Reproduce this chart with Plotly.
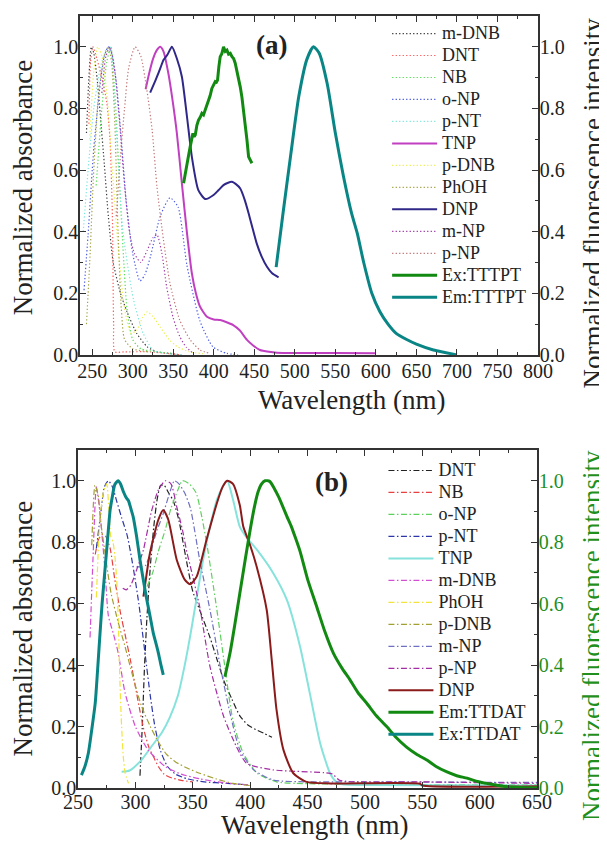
import plotly.graph_objects as go

# ---------------- Panel (a) data ----------------
a_mDNB_x = [243, 246, 249, 252, 256, 260, 265, 270, 276, 285, 293, 305, 318, 330, 345, 360]
a_mDNB_y = [0.72, 0.9, 1.0, 0.98, 0.9, 0.78, 0.62, 0.45, 0.3, 0.2, 0.14, 0.07, 0.026, 0.01, 0.005, 0.0]
a_DNT_x = [246, 248, 251, 256, 262, 268, 272, 275, 276.5, 278, 290, 320, 360]
a_DNT_y = [0.75, 0.95, 1.0, 0.96, 0.9, 0.82, 0.7, 0.45, 0.1, 0.01, 0.01, 0.01, 0.0]
a_NB_x = [255, 262, 268, 273, 278, 283, 288, 293, 300, 310, 330, 350]
a_NB_y = [0.55, 0.8, 0.95, 1.0, 0.85, 0.6, 0.35, 0.15, 0.05, 0.02, 0.01, 0.005]
a_oNP_x = [240, 245, 252, 260, 265, 270, 275, 280, 286, 292, 300, 309, 315, 322, 334, 346, 356, 367, 383, 399, 416, 430]
a_oNP_y = [0.21, 0.39, 0.67, 0.88, 0.97, 1.0, 0.97, 0.88, 0.7, 0.5, 0.33, 0.24, 0.26, 0.32, 0.45, 0.51, 0.48, 0.29, 0.11, 0.026, 0.005, 0.0]
a_pNT_x = [239, 245, 252, 260, 267, 272, 278, 288, 301, 313, 325, 340, 360]
a_pNT_y = [0.4, 0.6, 0.8, 0.93, 0.99, 1.0, 0.8, 0.4, 0.18, 0.07, 0.016, 0.005, 0.0]
a_TNP_x = [316, 320, 325, 330, 334, 338, 344, 349, 354.5, 360.7, 367, 373, 378, 383, 391.6, 400, 408, 416, 424, 432, 441, 449, 457, 468, 478, 500, 550, 600]
a_TNP_y = [0.862, 0.91, 0.96, 0.99, 1.0, 0.985, 0.914, 0.83, 0.72, 0.557, 0.395, 0.265, 0.2, 0.157, 0.124, 0.115, 0.113, 0.106, 0.097, 0.08, 0.049, 0.03, 0.016, 0.01, 0.007, 0.006, 0.006, 0.005]
a_pDNB_x = [247, 252, 257, 262, 268, 275, 282, 290, 298, 305, 312, 318, 325, 334, 345, 355, 370, 390]
a_pDNB_y = [0.7, 0.92, 1.0, 0.97, 0.85, 0.6, 0.35, 0.15, 0.07, 0.08, 0.12, 0.14, 0.125, 0.09, 0.05, 0.027, 0.01, 0.003]
a_PhOH_x = [243, 247, 252, 258, 265, 270, 274, 278, 282, 286, 290, 300, 320]
a_PhOH_y = [0.1, 0.3, 0.6, 0.85, 0.97, 1.0, 0.95, 0.75, 0.4, 0.15, 0.05, 0.02, 0.01]
a_DNP_x = [321.6, 326, 330, 334, 338, 343, 348.4, 354.5, 360.7, 367, 373, 381, 389.5, 399.8, 406, 412, 417, 422.5, 427, 432.7, 438, 443, 448, 453, 459, 465.7, 472, 480]
a_DNP_y = [0.851, 0.878, 0.903, 0.93, 0.957, 0.975, 1.0, 0.962, 0.903, 0.773, 0.643, 0.535, 0.506, 0.519, 0.535, 0.551, 0.558, 0.562, 0.555, 0.54, 0.505, 0.46, 0.41, 0.362, 0.32, 0.286, 0.265, 0.252]
a_mNP_x = [262, 267, 272, 278, 284, 290, 296, 302, 310, 318, 325, 330, 336, 342, 350, 358, 366, 375]
a_mNP_y = [0.85, 0.97, 1.0, 0.92, 0.75, 0.55, 0.4, 0.33, 0.3, 0.34, 0.38, 0.39, 0.33, 0.22, 0.12, 0.06, 0.025, 0.005]
a_pNP_x = [280, 285, 290, 295, 303, 310, 317.5, 324, 330, 338, 346, 358, 371, 383, 395]
a_pNP_y = [0.45, 0.65, 0.8, 0.93, 1.0, 0.97, 0.86, 0.73, 0.545, 0.373, 0.233, 0.113, 0.049, 0.016, 0.005]
a_Ex_x = [362.8, 364.5, 366.9, 369, 371, 373, 374.3, 375.8, 377.2, 379.2, 381.2, 383.3, 385.4, 387.4, 389.5, 391.5, 393.6, 395.6, 397.7, 399.8, 401.9, 403.3, 404.7, 406.3, 408, 410, 412.1, 414.2, 416.3, 418.3, 420.4, 422.5, 424.5, 426.5, 428.6, 430.6, 432.7, 434.8, 436.8, 439, 441, 443, 445, 447.1]
a_Ex_y = [0.557, 0.585, 0.611, 0.648, 0.676, 0.705, 0.719, 0.708, 0.714, 0.745, 0.762, 0.771, 0.784, 0.779, 0.795, 0.812, 0.827, 0.842, 0.865, 0.879, 0.887, 0.885, 0.892, 0.935, 0.968, 0.978, 1.0, 0.985, 0.989, 0.976, 0.979, 0.968, 0.962, 0.947, 0.924, 0.9, 0.870, 0.836, 0.795, 0.745, 0.697, 0.643, 0.63, 0.622]
a_Em_x = [477, 485, 495, 505, 515, 523, 530, 540, 550, 560, 570, 577, 585, 595, 605, 615, 625, 638, 650, 671, 685, 700]
a_Em_y = [0.285, 0.45, 0.65, 0.84, 0.96, 1.0, 0.98, 0.88, 0.72, 0.58, 0.46, 0.395, 0.3, 0.2, 0.14, 0.1, 0.07, 0.05, 0.035, 0.016, 0.008, 0.0]

# ---------------- Panel (b) data ----------------
b_DNT_x = [304, 306, 308, 310, 313, 316, 319, 322, 325, 329, 333, 338, 342, 346, 350, 358, 365, 371, 377, 384, 391, 398, 405, 412, 419]
b_DNT_y = [0.04, 0.2, 0.4, 0.55, 0.72, 0.85, 0.94, 0.985, 0.985, 0.96, 0.935, 0.87, 0.79, 0.71, 0.64, 0.56, 0.49, 0.42, 0.35, 0.29, 0.235, 0.205, 0.19, 0.178, 0.165]
b_NB_x = [265, 268, 271, 274, 278, 282, 287, 291, 296, 300, 304, 308, 312, 316, 320, 325, 330, 340, 350]
b_NB_y = [0.76, 0.81, 0.825, 0.82, 0.78, 0.68, 0.57, 0.5, 0.41, 0.33, 0.25, 0.18, 0.13, 0.1, 0.07, 0.045, 0.035, 0.025, 0.02]
b_oNP_x = [310, 315, 320, 326, 331, 337, 341, 347, 353, 358, 362, 367, 371, 377, 385, 394, 406, 423, 440, 500, 650]
b_oNP_y = [0.655, 0.7, 0.77, 0.84, 0.91, 0.97, 1.0, 0.99, 0.96, 0.88, 0.8, 0.68, 0.58, 0.42, 0.22, 0.113, 0.048, 0.02, 0.015, 0.012, 0.01]
b_pNT_x = [266, 270, 273, 276.5, 280, 284, 288, 293, 298, 303, 308, 313, 317, 322, 328, 335, 345, 360, 380, 400]
b_pNT_y = [0.78, 0.9, 0.98, 1.0, 0.98, 0.93, 0.88, 0.82, 0.72, 0.6, 0.45, 0.3, 0.2, 0.12, 0.07, 0.045, 0.03, 0.02, 0.015, 0.01]
b_TNP_x = [288, 295, 305, 315, 323, 330, 337, 343, 348, 353, 359, 365, 371, 376, 380, 385, 391, 398, 406, 420, 432, 443.5, 452, 461, 469.6, 475, 480, 500, 650]
b_TNP_y = [0.053, 0.057, 0.09, 0.14, 0.18, 0.23, 0.3, 0.4, 0.5, 0.61, 0.743, 0.85, 0.938, 0.98, 1.0, 0.94, 0.85, 0.81, 0.775, 0.7, 0.612, 0.46, 0.308, 0.146, 0.048, 0.02, 0.012, 0.01, 0.008]
b_mDNB_x = [260.5, 263, 266, 269, 273.5, 276.5, 281, 285, 291, 300, 311, 326, 340, 356, 375, 398]
b_mDNB_y = [0.49, 0.74, 0.98, 0.9, 0.71, 0.56, 0.5, 0.44, 0.31, 0.2, 0.124, 0.07, 0.045, 0.03, 0.018, 0.01]
b_PhOH_x = [266, 269, 272, 275, 277, 278.5, 280.5, 282, 283.7, 285, 286.5, 288, 289.5, 291, 294]
b_PhOH_y = [0.62, 0.87, 0.96, 0.99, 0.9, 0.82, 0.8, 0.76, 0.68, 0.56, 0.35, 0.2, 0.1, 0.05, 0.015]
b_pDNB_x = [262, 264.8, 267.7, 270, 273, 276, 279, 285, 291, 298, 305, 313, 320, 327, 335, 345, 356, 370, 385, 400]
b_pDNB_y = [0.79, 0.985, 0.95, 0.86, 0.78, 0.7, 0.63, 0.54, 0.46, 0.36, 0.27, 0.2, 0.15, 0.11, 0.085, 0.065, 0.048, 0.03, 0.015, 0.008]
b_mNP_x = [301, 305, 309, 314, 319, 324, 329, 334, 338, 343, 348, 356, 365, 374, 382.5, 391, 403, 420, 450, 500, 650]
b_mNP_y = [0.72, 0.72, 0.725, 0.78, 0.84, 0.89, 0.95, 1.0, 0.99, 0.96, 0.91, 0.743, 0.58, 0.395, 0.243, 0.124, 0.059, 0.026, 0.02, 0.02, 0.018]
b_pNP_x = [289, 292, 296, 302, 307, 314, 320, 326, 331, 336, 341, 345, 348, 356, 365, 377, 388, 397, 420, 464, 472, 478, 550, 650]
b_pNP_y = [0.65, 0.645, 0.66, 0.72, 0.775, 0.9, 0.97, 1.0, 0.99, 0.916, 0.84, 0.765, 0.72, 0.59, 0.395, 0.232, 0.135, 0.08, 0.059, 0.05, 0.045, 0.025, 0.02, 0.015]
b_DNP_x = [307, 312.7, 320, 324.3, 328.7, 336, 343, 347.6, 353.4, 362, 371, 376, 380, 385, 391, 394, 400, 405.7, 414.4, 418.8, 423, 429, 437.6, 449, 470, 548, 550, 650]
b_DNP_y = [0.623, 0.765, 0.873, 0.905, 0.873, 0.743, 0.678, 0.663, 0.688, 0.808, 0.927, 0.98, 1.0, 0.99, 0.92, 0.851, 0.79, 0.72, 0.58, 0.417, 0.254, 0.124, 0.048, 0.02, 0.015, 0.014, 0.008, 0.006]
b_Em_x = [378, 382.5, 387, 391, 396, 400, 404, 407, 410, 413, 417, 421, 424.6, 428, 432, 436, 439, 443.5, 450, 458, 465, 472.5, 480, 487, 494, 501.6, 510, 519, 527, 536, 545, 554, 562, 571, 580, 589, 597, 606, 615, 624, 636, 650]
b_Em_y = [0.362, 0.44, 0.54, 0.634, 0.75, 0.84, 0.92, 0.965, 0.99, 1.0, 0.998, 0.975, 0.949, 0.92, 0.884, 0.85, 0.819, 0.77, 0.68, 0.59, 0.51, 0.439, 0.39, 0.352, 0.31, 0.276, 0.235, 0.2, 0.165, 0.134, 0.11, 0.091, 0.07, 0.053, 0.04, 0.032, 0.022, 0.015, 0.009, 0.004, 0.002, 0.001]
b_Ex_x = [253, 256, 259, 262, 265, 267, 269, 271, 273.5, 276, 278, 280, 282, 285, 287, 289.5, 292, 294, 296, 298, 301, 304, 307, 310, 313, 315.6, 318, 320, 322, 324.3]
b_Ex_y = [0.042, 0.07, 0.113, 0.19, 0.276, 0.38, 0.493, 0.6, 0.71, 0.82, 0.905, 0.95, 0.987, 1.0, 0.99, 0.965, 0.945, 0.935, 0.91, 0.884, 0.82, 0.743, 0.675, 0.612, 0.555, 0.504, 0.47, 0.44, 0.405, 0.368]

# axis titles
X_TITLE = "Wavelength (nm)"
Y_LEFT_TITLE = "Normalized absorbance"
Y_RIGHT_TITLE = "Normalized fluorescence intensity"

# ---------------- figure ----------------
FONT = "Liberation Serif"
DOT = "1.3px,2.2px"
DASHDOT = "6px,2.5px,1.5px,2.5px"

fig = go.Figure()

def add(x, y, name, color, dash, width, xa, ya, leg, shape="spline"):
    fig.add_trace(go.Scatter(
        x=x, y=y, name="<span style='font-size:18px'>" + name + "</span>", mode="lines",
        line=dict(color=color, dash=dash, width=width, shape=shape, smoothing=0.6 if shape == "spline" else None),
        xaxis=xa, yaxis=ya, legend=leg))

# panel (a)
add(a_mDNB_x, a_mDNB_y, "m-DNB", "#3a3a3a", DOT, 1.2, "x", "y", "legend")
add(a_DNT_x, a_DNT_y, "DNT", "#ff5a5a", DOT, 1.2, "x", "y", "legend")
add(a_NB_x, a_NB_y, "NB", "#55dd55", DOT, 1.2, "x", "y", "legend")
add(a_oNP_x, a_oNP_y, "o-NP", "#4a5ae0", DOT, 1.2, "x", "y", "legend")
add(a_pNT_x, a_pNT_y, "p-NT", "#7fe8dc", DOT, 1.2, "x", "y", "legend")
add(a_TNP_x, a_TNP_y, "TNP", "#c13fc1", "solid", 2, "x", "y", "legend")
add(a_pDNB_x, a_pDNB_y, "p-DNB", "#eeee55", DOT, 1.2, "x", "y", "legend")
add(a_PhOH_x, a_PhOH_y, "PhOH", "#a3a345", DOT, 1.2, "x", "y", "legend")
add(a_DNP_x, a_DNP_y, "DNP", "#2f2888", "solid", 2, "x", "y", "legend")
add(a_mNP_x, a_mNP_y, "m-NP", "#a03aa8", DOT, 1.2, "x", "y", "legend")
add(a_pNP_x, a_pNP_y, "p-NP", "#c07575", DOT, 1.2, "x", "y", "legend")
add(a_Ex_x, a_Ex_y, "Ex:TTTPT", "#128a12", "solid", 3, "x", "y2", "legend", shape="linear")
add(a_Em_x, a_Em_y, "Em:TTTPT", "#0a8585", "solid", 3, "x", "y2", "legend")

# panel (b)
add(b_DNT_x, b_DNT_y, "DNT", "#222222", DASHDOT, 1.2, "x2", "y3", "legend2")
add(b_NB_x, b_NB_y, "NB", "#e84040", DASHDOT, 1.2, "x2", "y3", "legend2")
add(b_oNP_x, b_oNP_y, "o-NP", "#5ed05e", DASHDOT, 1.2, "x2", "y3", "legend2")
add(b_pNT_x, b_pNT_y, "p-NT", "#2c36a8", DASHDOT, 1.2, "x2", "y3", "legend2")
add(b_TNP_x, b_TNP_y, "TNP", "#86e3dc", "solid", 2, "x2", "y3", "legend2")
add(b_mDNB_x, b_mDNB_y, "m-DNB", "#d24fd2", DASHDOT, 1.2, "x2", "y3", "legend2")
add(b_PhOH_x, b_PhOH_y, "PhOH", "#f2e43a", DASHDOT, 1.2, "x2", "y3", "legend2")
add(b_pDNB_x, b_pDNB_y, "p-DNB", "#a3a032", DASHDOT, 1.2, "x2", "y3", "legend2")
add(b_mNP_x, b_mNP_y, "m-NP", "#7070c0", DASHDOT, 1.2, "x2", "y3", "legend2")
add(b_pNP_x, b_pNP_y, "p-NP", "#a32ea3", DASHDOT, 1.2, "x2", "y3", "legend2")
add(b_DNP_x, b_DNP_y, "DNP", "#8b1a1a", "solid", 2, "x2", "y3", "legend2")
add(b_Em_x, b_Em_y, "Em:TTDAT", "#128a12", "solid", 3, "x2", "y4", "legend2")
add(b_Ex_x, b_Ex_y, "Ex:TTDAT", "#0a8585", "solid", 3, "x2", "y4", "legend2")

AX = "#333333"
TXT = "#222222"
GREEN = "#1f8f1f"
TICK_SIZE = 20
TITLE_SIZE = 27

def xax(rng, domain, anchor, lstand=-3):
    return dict(range=rng, domain=domain, anchor=anchor, automargin=False, showline=True, linecolor=AX, linewidth=1.5,
                mirror="ticks", ticks="inside", ticklen=6, tickwidth=1.2, tickcolor=AX,
                dtick=50, tick0=0, showgrid=False, zeroline=False, ticklabelstandoff=lstand,
                tickfont=dict(family=FONT, size=TICK_SIZE, color=TXT),
                minor=dict(dtick=25, ticklen=3.5, ticks="inside", tickcolor=AX, tickwidth=1.2, showgrid=False))

def yax(domain, anchor, side="left", overlaying=None, color=TXT):
    d = dict(range=[0, 1.1], anchor=anchor, automargin=False, showline=True, linecolor=AX, linewidth=1.5,
             ticks="inside", ticklen=6, tickwidth=1.2, tickcolor=AX, dtick=0.2, tick0=0,
             tickformat=".1f", showgrid=False, zeroline=False, side=side, ticklabelstandoff=-4,
             tickfont=dict(family=FONT, size=TICK_SIZE, color=color),
             minor=dict(dtick=0.1, ticklen=3.5, ticks="inside", tickcolor=AX, tickwidth=1.2, showgrid=False))
    if overlaying:
        d["overlaying"] = overlaying
    else:
        d["domain"] = domain
    return d

def title_ann(text, x, y, angle=0, color=TXT):
    return dict(text=text, x=x, y=y, xref="paper", yref="paper", showarrow=False, textangle=angle,
                xanchor="center", yanchor="middle", font=dict(family=FONT, size=TITLE_SIZE, color=color))

# the page adds an 8px body margin, so the figure is 8px smaller and margins are shifted
fig.update_layout(
    width=599, height=837,
    template="none",
    margin=dict(l=70, r=69, t=8, b=57, autoexpand=False),
    paper_bgcolor="white", plot_bgcolor="white",
    font=dict(family=FONT, color=TXT),
    xaxis=xax([235, 800], [0.0043, 1.0], "y"),
    yaxis=yax([0.561, 1.0], "x"),
    yaxis2=yax(None, "x", side="right", overlaying="y"),
    xaxis2=xax([250, 650], [0.0, 0.998], "y3", lstand=-5),
    yaxis3=yax([0.0, 0.4378], "x2"),
    yaxis4=yax(None, "x2", side="right", overlaying="y3", color=GREEN),
    showlegend=True,
    legend=dict(x=0.672, y=0.998, xanchor="left", yanchor="top", bgcolor="rgba(0,0,0,0)",
                font=dict(family=FONT, size=14.6, color=TXT), itemwidth=45, tracegroupgap=0),
    legend2=dict(x=0.664, y=0.432, xanchor="left", yanchor="top", bgcolor="rgba(0,0,0,0)",
                 font=dict(family=FONT, size=14.6, color=TXT), itemwidth=45, tracegroupgap=0),
    annotations=[
        dict(text="<b>(a)</b>", x=0.4217, y=0.9624, xref="paper", yref="paper", showarrow=False,
             xanchor="center", yanchor="middle", font=dict(family=FONT, size=27, color=TXT)),
        dict(text="<b>(b)</b>", x=0.55, y=0.396, xref="paper", yref="paper", showarrow=False,
             xanchor="center", yanchor="middle", font=dict(family=FONT, size=27, color=TXT)),
        title_ann(X_TITLE, 0.5957, 0.5026),
        title_ann(X_TITLE, 0.515, -0.0485),
        title_ann(Y_LEFT_TITLE, -0.1196, 0.778, -90),
        title_ann(Y_LEFT_TITLE, -0.1196, 0.2066, -90),
        title_ann(Y_RIGHT_TITLE, 1.1196, 0.757, -90),
        title_ann(Y_RIGHT_TITLE, 1.117, 0.198, -90, GREEN),
    ],
)

fig.write_html("out.html")
